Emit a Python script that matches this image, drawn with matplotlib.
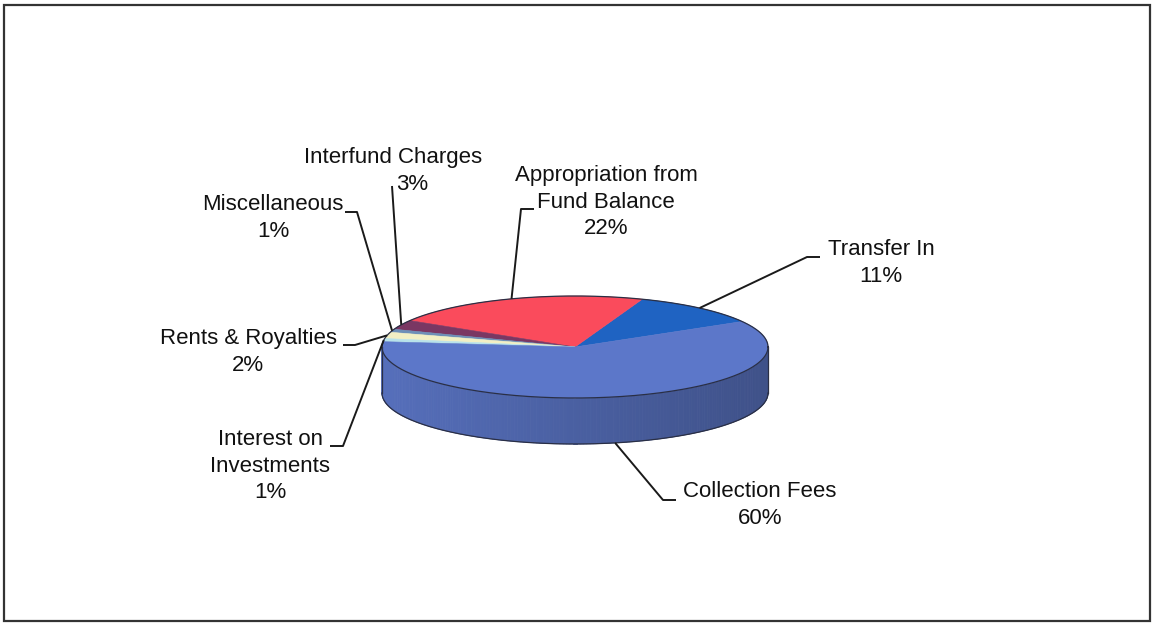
import numpy as np
import matplotlib.pyplot as plt
from matplotlib.patches import Polygon, Rectangle

plt.rcParams['font.family'] = ['Liberation Sans', 'DejaVu Sans']

# revenue sources, counterclockwise from the right edge of the 3-D pie
names = ["Transfer In", "Appropriation from\nFund Balance", "Interfund Charges",
         "Miscellaneous", "Rents & Royalties", "Interest on\nInvestments",
         "Collection Fees"]
values = [11, 22, 3, 1, 2, 1, 60]
colors = ["#1f63c2", "#fa4b5c", "#7a3763", "#6d8fb8", "#f2efc4", "#b8e2ea", "#5c77c9"]

# label block centres (pixels), leader elbows and stub ends
label_xy = [(881, 263), (606, 202), (393, 171), (273, 218), (248, 352), (270, 466), (760, 505)]
pct_dx = [0, 0, 19, 0, 0, 0, 0]
elbow = [(807, 257), (521, 209), (392, 186), (357, 212), (355, 345), (343, 446), (663, 500)]
stub = [(820, 257), (534, 209), (392, 186), (345, 212), (343, 345), (330, 446), (676, 500)]

W, H = 1153, 624
cx, cy, rx, ry, depth = 575, 347, 193, 51, 46
start = 30.0


def rim(theta, dz=0.0):
    t = np.radians(theta)
    return cx + rx * np.cos(t), cy - ry * np.sin(t) + dz


def shade(c, f):
    rgb = np.array(plt.matplotlib.colors.to_rgb(c))
    return tuple(np.clip(rgb * f, 0, 1))


fig = plt.figure(figsize=(W / 100, H / 100), dpi=100)
ax = fig.add_axes([0, 0, 1, 1])
ax.set_xlim(0, W)
ax.set_ylim(H, 0)
ax.axis('off')

ax.add_patch(Rectangle((4, 5), 1146, 616, fill=False, ec='#333333', lw=1.6))

total = float(sum(values))
edges = [start]
for v in values:
    edges.append(edges[-1] + 360.0 * v / total)

# side wall: only the front half (180..360) shows
for i, c in enumerate(colors):
    a0, a1 = edges[i], edges[i + 1]
    for k in range(-1, 2):
        lo = max(a0, 180 + 360 * k)
        hi = min(a1, 360 + 360 * k)
        if hi <= lo:
            continue
        steps = np.linspace(lo, hi, int(hi - lo) + 2)
        for s0, s1 in zip(steps[:-1], steps[1:]):
            m = np.cos(np.radians((s0 + s1) / 2))
            f = 0.93 - 0.25 * (m + 1) / 2
            pts = [rim(s0), rim(s1), rim(s1, depth), rim(s0, depth)]
            ax.add_patch(Polygon(pts, closed=True, fc=shade(c, f), ec=shade(c, f), lw=0.6))

# top faces
for i, c in enumerate(colors):
    a0, a1 = edges[i], edges[i + 1]
    arc = np.linspace(a0, a1, max(int(a1 - a0) * 2, 4))
    pts = [(cx, cy)] + [rim(a) for a in arc]
    ax.add_patch(Polygon(pts, closed=True, fc=c, ec=c, lw=0.4))

# outlines
th = np.linspace(0, 360, 361)
ax.plot(*zip(*[rim(a) for a in th]), color='#2a2f45', lw=0.9)
th = np.linspace(180, 360, 181)
ax.plot(*zip(*[rim(a, depth) for a in th]), color='#2a2f45', lw=0.9)
for a in (180, 360):
    x, y = rim(a)
    ax.plot([x, x], [y, y + depth], color='#2a2f45', lw=0.9)

# labels and leader lines
line_step = 26.5
for i, name in enumerate(names):
    mid = (edges[i] + edges[i + 1]) / 2
    dz = depth if np.sin(np.radians(mid)) < 0 else 0
    px, py = rim(mid, dz)
    ax.plot([px, elbow[i][0], stub[i][0]], [py, elbow[i][1], stub[i][1]],
            color='#1a1a1a', lw=1.4, solid_capstyle='butt')

    lines = name.split("\n") + ["%d%%" % values[i]]
    x0, y0 = label_xy[i]
    top = y0 - line_step * (len(lines) - 1) / 2
    for j, txt in enumerate(lines):
        dx = pct_dx[i] if j == len(lines) - 1 else 0
        ax.text(x0 + dx, top + j * line_step, txt, ha='center', va='center',
                fontsize=16, color='#111111')

fig.savefig("out.png", dpi=100)
